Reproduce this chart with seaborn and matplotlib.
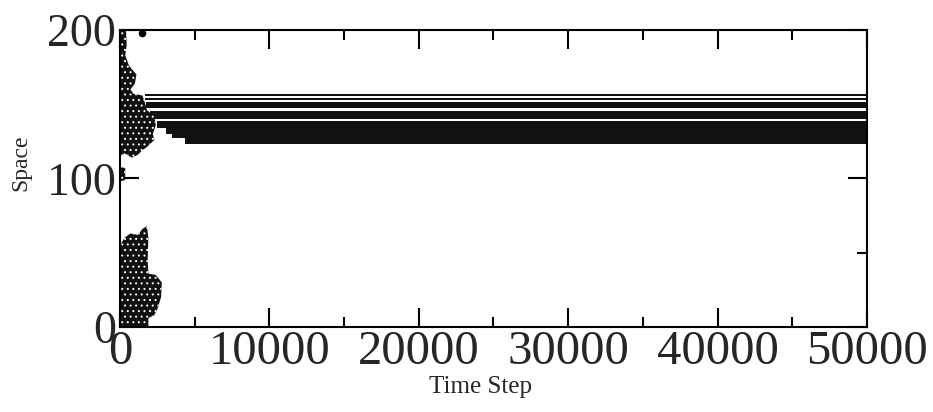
import matplotlib
matplotlib.use('Agg')
import matplotlib.pyplot as plt
import seaborn as sns

# steady bands after the transient: bottom / top in space units, first time step
band_bottom = [155.3, 152.9, 147.2, 140.2, 134.0, 130.0, 127.0, 123.2]
band_top = [156.6, 154.1, 151.3, 145.6, 138.4, 134.0, 130.0, 127.0]
band_start = [1700, 1700, 1750, 2000, 2500, 3100, 3500, 4350]
t_end = 50000

# outlines of the transient (time, space)
upper_time = [0, 400, 450, 350, 600, 1100, 1000, 700, 900, 1500, 1700, 1800,
              2300, 2400, 2200, 2300, 1900, 1500, 1200, 800, 300, 0]
upper_space = [200, 200, 190, 183, 176, 170, 164, 160, 157, 156, 150, 146,
               142, 136, 130, 126, 122, 119, 116, 114, 117, 115]
lower_time = [0, 300, 700, 1200, 1500, 1800, 1900, 1850, 1900, 2400, 2800,
              2750, 2500, 2300, 1900, 1900, 0]
lower_space = [55, 60, 63, 62, 66, 68, 60, 45, 36, 35, 30, 20, 12, 8, 6, 0, 0]
blob_time = [0, 350, 350, 0]
blob_space = [98, 99, 107, 108]
dot_time = [1470]
dot_space = [198]

sns.set_style('ticks')
plt.rcParams['font.family'] = ['Liberation Serif', 'DejaVu Serif']
plt.rcParams['hatch.linewidth'] = 0.7

fig = plt.figure(figsize=(9.33, 4.12), dpi=100)
ax = fig.add_axes([0.1286, 0.2063, 0.8006, 0.7209])

for lo, hi, t0 in zip(band_bottom, band_top, band_start):
    ax.fill_between([t0, t_end], lo, hi, color='#111111', linewidth=0)

# speckled look of the transient
for tt, ss in [(upper_time, upper_space), (lower_time, lower_space),
               (blob_time, blob_space)]:
    ax.fill(tt, ss, facecolor='#111111', edgecolor='white', hatch='...',
            linewidth=0)
sns.scatterplot(x=dot_time, y=dot_space, ax=ax, color='black', s=30,
                linewidth=0, legend=False)

ax.set_xlim(0, 50000)
ax.set_ylim(0, 200)
ax.set_xticks(range(0, 50001, 10000))
ax.set_xticks(range(5000, 50000, 10000), minor=True)
ax.set_yticks([0, 100, 200])
ax.set_yticks([50, 150], minor=True)

for s in ax.spines.values():
    s.set_linewidth(1.5)
    s.set_color('black')

ax.tick_params(which='both', direction='in', top=True, right=True,
               width=1.5, color='black')
ax.tick_params(which='major', length=14)
ax.tick_params(which='minor', length=7)
ax.tick_params(axis='x', labelsize=35, pad=2)
ax.tick_params(axis='y', labelsize=33, pad=3)

ax.set_xlabel('Time Step', fontsize=18)
ax.set_ylabel('Space', fontsize=17)
ax.xaxis.set_label_coords(0.483, -0.165)
ax.yaxis.set_label_coords(-0.118, 0.552)

fig.savefig('out.png', dpi=100)
